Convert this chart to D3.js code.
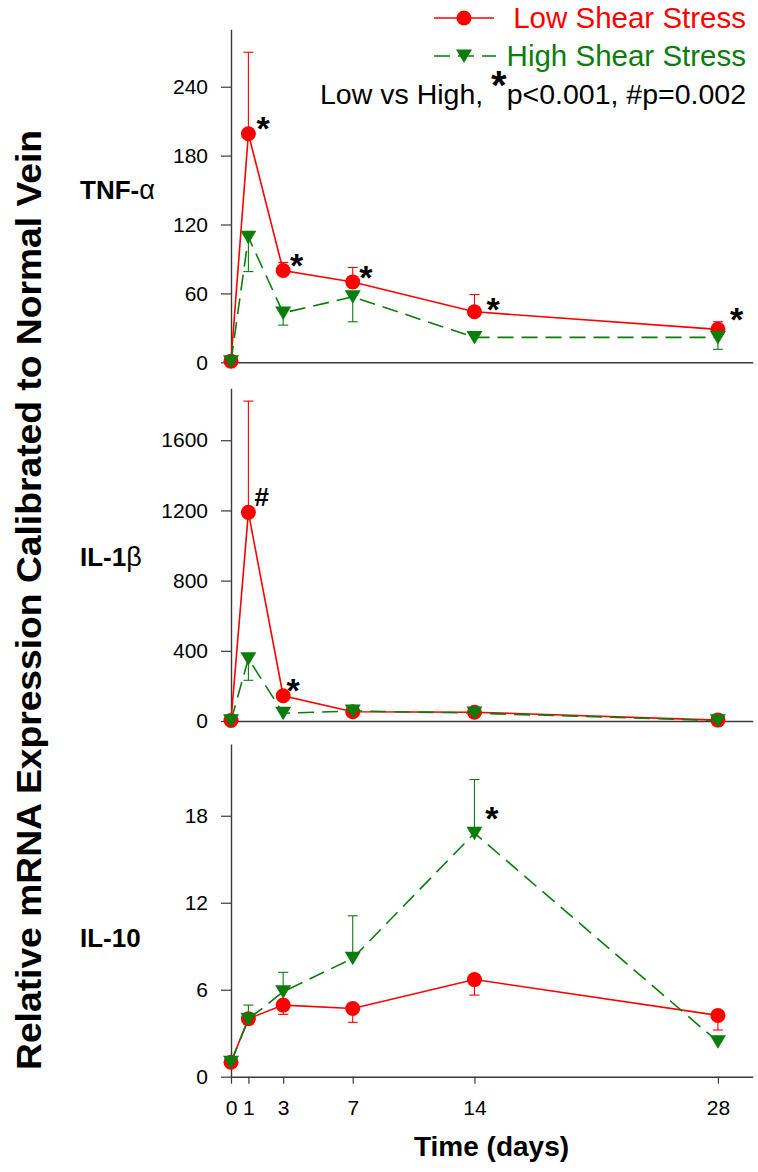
<!DOCTYPE html>
<html><head><meta charset="utf-8">
<script src="https://cdn.jsdelivr.net/npm/d3@7"></script>
<style>body{margin:0;background:#fff;} svg{display:block;}</style>
</head><body>
<script>
// ---- data ----
const days = [0, 1, 3, 7, 14, 28];
const xTickLabels = ["0", "1", "3", "7", "14", "28"];

const tnfLow      = [1, 199, 80, 70, 44, 28.7];
const tnfLowErr   = [0, 71, 7, 12.6, 15, 6.6];
const tnfHigh     = [0.5, 109, 43, 57, 21.7, 21.7];
const tnfHighErr  = [0, 30, 10.6, 21.7, 0, 10.4];

const il1bLow     = [3, 1189, 144, 53, 50, 5];
const il1bLowErr  = [0, 634, 0, 0, 0, 0];
const il1bHigh    = [2, 355, 44, 57, 45, 2];
const il1bHighErr = [0, 123, 0, 0, 0, 0];

const il10Low     = [1, 4.0, 4.94, 4.7, 6.7, 4.23];
const il10LowErr  = [0, 0.4, 0.64, 0.95, 1.07, 1.01];
const il10High    = [1, 3.96, 5.86, 8.17, 16.8, 2.41];
const il10HighErr = [0, 0.98, 1.34, 2.93, 3.7, 0];

const tnfTicks  = [0, 60, 120, 180, 240];
const il1bTicks = [0, 400, 800, 1200, 1600];
const il10Ticks = [0, 6, 12, 18];

const tnfMarks  = [{day:1.84, value:210, t:"*"}, {day:3.78, value:90.7, t:"*"}, {day:7.76, value:80, t:"*"}, {day:15.07, value:52.6, t:"*"}, {day:29.08, value:43.9, t:"*"}];
const il1bMarks = [{day:1.77, value:1278, t:"#"}, {day:3.57, value:216, t:"*"}];
const il10Marks = [{day:15.0, value:18.3, t:"*"}];

const seriesNames = ["Low Shear Stress", "High Shear Stress"];
const noteText = ["Low vs High, ", "*", "p<0.001, #p=0.002"];
const yTitle = "Relative mRNA Expression Calibrated to Normal Vein";
const xTitle = "Time (days)";

// ---- styles ----
const RED = "#ff0000", GREEN = "#0a7d0a", AXIS = "#3a3a3a";
const FONT = "Arial, 'Liberation Sans', sans-serif";

const W = 758, H = 1172;
const svg = d3.select("body").append("svg").attr("width", W).attr("height", H)
  .style("font-family", FONT);
svg.append("rect").attr("width", W).attr("height", H).attr("fill", "#fff");

const x = d3.scaleLinear().domain([0, 30]).range([231, 752.7]);

const panels = [
  {label:["TNF-", "\u03b1"], labelY:190, top:29.3, bottom:362.3, max:290, ticks:tnfTicks,
   low:tnfLow, lowErr:tnfLowErr, lowDir:1, high:tnfHigh, highErr:tnfHighErr, highDir:-1, marks:tnfMarks, xTicks:false},
  {label:["IL-1", "\u03b2"], labelY:557, top:388.3, bottom:721, max:1896, ticks:il1bTicks,
   low:il1bLow, lowErr:il1bLowErr, lowDir:1, high:il1bHigh, highErr:il1bHighErr, highDir:-1, marks:il1bMarks, xTicks:false},
  {label:["IL-10", ""], labelY:938, top:744, bottom:1076.7, max:22.95, ticks:il10Ticks,
   low:il10Low, lowErr:il10LowErr, lowDir:-1, high:il10High, highErr:il10HighErr, highDir:1, marks:il10Marks, xTicks:true}
];

const triangle = "M-8,-6.5L8,-6.5L0,7Z";

panels.forEach(p => {
  const y = d3.scaleLinear().domain([0, p.max]).range([p.bottom, p.top]);
  const g = svg.append("g");

  // y axis
  const ya = g.append("g").attr("transform", `translate(${x(0)},0)`)
    .call(d3.axisLeft(y).tickValues(p.ticks).tickFormat(d3.format("d")).tickSize(10).tickSizeOuter(0).tickPadding(13));
  ya.select(".domain").attr("stroke", AXIS).attr("stroke-width", 1.4);
  ya.selectAll(".tick line").attr("stroke", AXIS).attr("stroke-width", 1.2);
  ya.selectAll(".tick text").attr("font-size", 21).attr("font-family", FONT).attr("fill", "#000");

  // x axis
  const xa = g.append("g").attr("transform", `translate(0,${p.bottom})`)
    .call(d3.axisBottom(x).tickValues(p.xTicks ? days : []).tickFormat((d, i) => xTickLabels[i])
      .tickSize(7).tickSizeOuter(0).tickPadding(16));
  xa.select(".domain").attr("stroke", AXIS).attr("stroke-width", 1.4);
  xa.selectAll(".tick line").attr("stroke", AXIS).attr("stroke-width", 1.2);
  xa.selectAll(".tick text").attr("font-size", 21).attr("font-family", FONT).attr("fill", "#000");

  // panel label
  const lt = g.append("text").attr("x", 80).attr("y", p.labelY + 9)
    .attr("font-size", 26).attr("font-weight", "bold").attr("fill", "#000");
  lt.append("tspan").text(p.label[0]);
  if (p.label[1]) lt.append("tspan").attr("font-weight", "normal").attr("font-size", 27).text(p.label[1]);

  const series = [
    {vals:p.low, err:p.lowErr, dir:p.lowDir, color:RED, dash:null, shape:"circle"},
    {vals:p.high, err:p.highErr, dir:p.highDir, color:GREEN, dash:"16,8", shape:"tri"}
  ];
  const line = d3.line().x((d, i) => x(days[i])).y(d => y(d));

  series.forEach(s => {
    const sg = g.append("g");
    // error bars
    days.forEach((d, i) => {
      if (!s.err[i]) return;
      const y0 = y(s.vals[i]), y1 = y(s.vals[i] + s.dir * s.err[i]);
      sg.append("line").attr("x1", x(d)).attr("x2", x(d)).attr("y1", y0).attr("y2", y1)
        .attr("stroke", s.color).attr("stroke-width", 1.1);
      sg.append("line").attr("x1", x(d) - 5).attr("x2", x(d) + 5).attr("y1", y1).attr("y2", y1)
        .attr("stroke", s.color).attr("stroke-width", 1.1);
    });
    sg.append("path").datum(s.vals).attr("d", line).attr("fill", "none")
      .attr("stroke", s.color).attr("stroke-width", 1.6)
      .attr("stroke-dasharray", s.dash);
    days.forEach((d, i) => {
      if (s.shape === "circle") {
        sg.append("circle").attr("cx", x(d)).attr("cy", y(s.vals[i])).attr("r", 7.5).attr("fill", s.color);
      } else {
        sg.append("path").attr("d", triangle)
          .attr("transform", `translate(${x(d)},${y(s.vals[i])})`).attr("fill", s.color);
      }
    });
  });

  // significance marks
  p.marks.forEach(m => {
    const isStar = m.t === "*";
    const fs = isStar ? 34 : 26;
    g.append("text").attr("x", x(m.day)).attr("y", y(m.value) + (isStar ? 0.56 : 0.36) * fs)
      .attr("text-anchor", "middle").attr("font-size", fs).attr("font-weight", "bold")
      .attr("fill", "#000").text(m.t);
  });
});

// legend
const leg = svg.append("g");
const legY = [18, 56];
// low
leg.append("line").attr("x1", 434).attr("x2", 494).attr("y1", legY[0]).attr("y2", legY[0])
  .attr("stroke", RED).attr("stroke-width", 1.6);
leg.append("circle").attr("cx", 464).attr("cy", legY[0]).attr("r", 7.5).attr("fill", RED);
leg.append("text").attr("x", 746).attr("y", legY[0] + 10).attr("text-anchor", "end")
  .attr("font-size", 29.5).attr("fill", RED).text(seriesNames[0]);
// high
leg.append("line").attr("x1", 434).attr("x2", 496).attr("y1", legY[1]).attr("y2", legY[1])
  .attr("stroke", GREEN).attr("stroke-width", 1.6).attr("stroke-dasharray", "16,8");
leg.append("path").attr("d", triangle).attr("transform", `translate(464,${legY[1]})`).attr("fill", GREEN);
leg.append("text").attr("x", 746).attr("y", legY[1] + 10).attr("text-anchor", "end")
  .attr("font-size", 29.5).attr("fill", GREEN).text(seriesNames[1]);
// note
const nt = leg.append("text").attr("x", 746).attr("y", 104).attr("text-anchor", "end")
  .attr("font-size", 28.5).attr("fill", "#000");
nt.append("tspan").text(noteText[0]);
nt.append("tspan").attr("font-size", 40).attr("font-weight", "bold").attr("dy", -5).text(noteText[1]);
nt.append("tspan").attr("dy", 5).text(noteText[2]);

// axis titles
svg.append("text").attr("transform", "translate(41,600) rotate(-90)")
  .attr("text-anchor", "middle").attr("font-size", 35).attr("font-weight", "bold")
  .attr("textLength", 940).attr("lengthAdjust", "spacingAndGlyphs").attr("fill", "#000").text(yTitle);
svg.append("text").attr("x", 491.5).attr("y", 1156).attr("text-anchor", "middle")
  .attr("font-size", 28).attr("font-weight", "bold").attr("fill", "#000").text(xTitle);
</script>
</body></html>
